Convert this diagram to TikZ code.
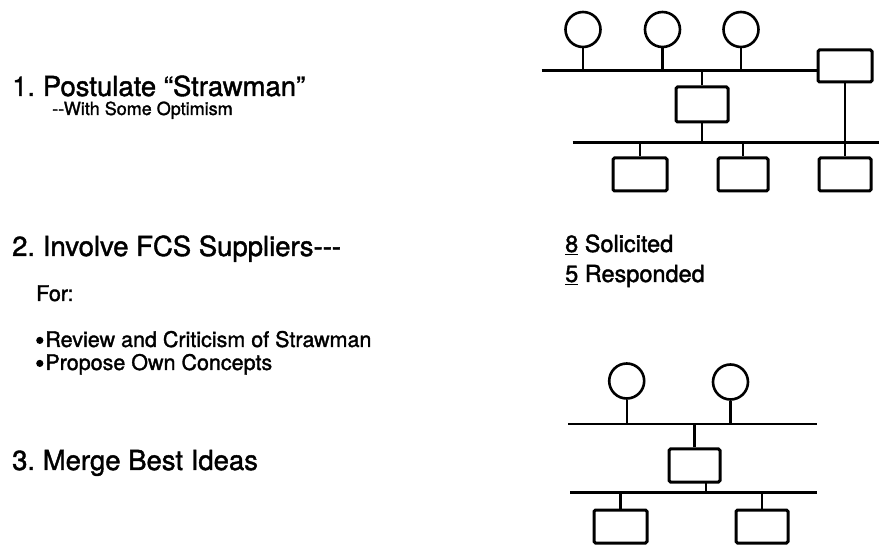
\documentclass[tikz,border=0pt]{standalone}
\usepackage{fontspec}
\setmainfont{TeX Gyre Heros}[FakeBold=1.5]
\newcommand{\blt}{\raisebox{3pt}{\tikz\fill (0,0) circle[radius=3.6pt];}\kern2pt}
\begin{document}
\begin{tikzpicture}[x=1pt,y=-1pt,
  station/.style={circle,draw,line width=2.6pt,minimum size=35pt,inner sep=0pt},
  unit/.style={draw,line width=3pt,rounded corners=1.5pt,inner sep=0pt},
  bus/.style={line width=2.4pt},
  stem/.style={line width=2.2pt},
  big/.style={anchor=base west,inner sep=0pt,font=\fontsize{27.5}{30}\selectfont},
  right/.style={anchor=base west,inner sep=0pt,font=\fontsize{23.5}{30}\selectfont},
  sub/.style={anchor=base west,inner sep=0pt,font=\fontsize{18}{22}\selectfont},
  small/.style={anchor=base west,inner sep=0pt,font=\fontsize{21.5}{24}\selectfont}]
\useasboundingbox (0,0) rectangle (879,545);
% ---- text ----
\node[big]   (t1)  at (12,96)   {1.\ Postulate “Strawman”};
\node[sub]   (t1a) at (52,115)  {-{}-With Some Optimism};
\node[big]   (t2)  at (12,256)  {2.\ Involve FCS Suppliers-{}-{}-};
\node[small] (t2a) at (36,301)  {For:};
\node[small] (t2b) at (36,347)  {\blt Review and Criticism of Strawman};
\node[small] (t2c) at (36,370)  {\blt Propose Own Concepts};
\node[big]   (t3)  at (12,470)  {3.\ Merge Best Ideas};
\node[right] (s1)  at (565,252) {\underline{8}\ Solicited};
\node[right] (s2)  at (565,282) {\underline{5}\ Responded};
% ---- top network ----
\node[station] (c1) at (583,29.5) {};
\node[station] (c2) at (662.5,29.5) {};
\node[station] (c3) at (741,29.5) {};
\node[unit,minimum width=54pt,minimum height=32pt] (rb) at (845,66) {};
\node[unit,minimum width=52pt,minimum height=35pt] (mb) at (702,104.5) {};
\node[unit,minimum width=54pt,minimum height=33pt] (b1) at (640,174.5) {};
\node[unit,minimum width=50pt,minimum height=33pt] (b2) at (743,174.5) {};
\node[unit,minimum width=52pt,minimum height=33pt] (b3) at (845,174.5) {};
\coordinate (busA) at (541.5,70.7);
\coordinate (busB1) at (572.5,142.7);
\coordinate (busB2) at (879,142.7);
\draw[bus] (busA) -- (busA -| rb.west);
\draw[bus] (busB1) -- (busB2);
\foreach \c in {c1,c2,c3} \draw[stem] (\c.south) -- (\c.south |- busA);
\draw[stem] (mb.north) -- (mb.north |- busA);
\draw[stem] (mb.south) -- (mb.south |- busB1);
\draw[stem] (rb.south) -- (b3.north);
\draw[stem] (b1.north) -- (b1.north |- busB1);
\draw[stem] (b2.north) -- (b2.north |- busB1);
% ---- bottom network ----
\node[station] (d1) at (626.7,381) {};
\node[station] (d2) at (730.5,382) {};
\node[unit,minimum width=51pt,minimum height=33pt] (m2) at (694.5,465.5) {};
\node[unit,minimum width=53pt,minimum height=33pt] (e1) at (620.5,526.5) {};
\node[unit,minimum width=52pt,minimum height=33pt] (e2) at (762,526.5) {};
\coordinate (busC1) at (568,424.3);
\coordinate (busC2) at (817,424.3);
\coordinate (busD1) at (570,492.3);
\coordinate (busD2) at (817,492.3);
\coordinate (m2s) at (706,481.8);
\draw[bus] (busC1) -- (busC2);
\draw[bus] (busD1) -- (busD2);
\foreach \c in {d1,d2} \draw[stem] (\c.south) -- (\c.south |- busC1);
\draw[stem] (m2.north) -- (m2.north |- busC1);
\draw[stem] (m2s) -- (m2s |- busD1);
\draw[stem] (e1.north) -- (e1.north |- busD1);
\draw[stem] (e2.north) -- (e2.north |- busD1);
\end{tikzpicture}
\end{document}
